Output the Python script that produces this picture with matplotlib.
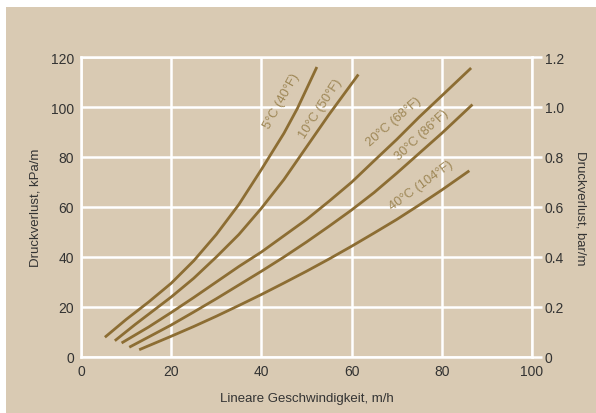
import matplotlib
matplotlib.use("Agg")
import matplotlib.pyplot as plt
from matplotlib.patches import Rectangle

plt.rcParams["font.family"] = ["Liberation Sans", "DejaVu Sans"]

# values
x_5 = [5.3, 10, 15, 20, 25, 30, 35, 40, 45, 48, 52.3]
y_5 = [7.9, 15, 22, 29.5, 38.5, 49, 61, 75, 89.5, 99.5, 116]

x_10 = [7.5, 12, 16, 20, 25, 30, 35, 40, 45, 50, 55, 61.5]
y_10 = [6.5, 13, 18.5, 24, 31.5, 40, 49, 59.5, 71, 84, 97, 113]

x_20 = [9, 15, 20, 25, 30, 35, 40, 45, 50, 55, 60, 65, 70, 75, 80, 86.5]
y_20 = [5.6, 12, 17.8, 23.8, 30, 36.2, 42, 48.5, 55, 62.3, 69.9, 78.5, 87, 96, 104.5, 115.6]

x_30 = [10.7, 15, 20, 25, 30, 35, 40, 45, 50, 55, 60, 65, 70, 75, 80, 86.8]
y_30 = [3.9, 8, 12.8, 18, 23.3, 28.8, 34.3, 40, 46, 52.3, 58.8, 65.8, 73.5, 81.5, 89.5, 101]

x_40 = [12.9, 15, 20, 25, 30, 35, 40, 45, 50, 55, 60, 65, 70, 75, 80, 86.1]
y_40 = [2.9, 4.5, 8.3, 12.2, 16.3, 20.6, 25, 29.6, 34.3, 39.2, 44.3, 49.6, 55, 60.8, 66.8, 74.5]

series = [(x_5, y_5), (x_10, y_10), (x_20, y_20), (x_30, y_30), (x_40, y_40)]

labels = ["5°C (40°F)", "10°C (50°F)", "20°C (68°F)", "30°C (86°F)", "40°C (104°F)"]
label_xy = [(44.4, 102.6), (53.2, 99.5), (69.4, 94.3), (75.5, 88.9), (75.4, 68.9)]
label_rot = [61, 57, 41, 43, 36]

x_ticks = [0, 20, 40, 60, 80, 100]
y_ticks = [0, 20, 40, 60, 80, 100, 120]
bar_ticks = [0, 0.2, 0.4, 0.6, 0.8, 1.0, 1.2]
bar_labels = ["0", "0.2", "0.4", "0.6", "0.8", "1.0", "1.2"]

tan = "#d9cab3"
line_color = "#8c6d33"
label_color = "#9e8756"
text_color = "#333333"

fig = plt.figure(figsize=(5.96, 4.14), dpi=100, facecolor=tan)
# thin white strips on the left and top edges
fig.patches.append(Rectangle((0, 0), 6 / 596, 1, transform=fig.transFigure,
                             facecolor="white", edgecolor="none", zorder=-10))
fig.patches.append(Rectangle((0, 406 / 414), 1, 8 / 414, transform=fig.transFigure,
                             facecolor="white", edgecolor="none", zorder=-10))

ax = fig.add_axes([81 / 596, 1 - 358 / 414, 451 / 596, 300 / 414])
ax.set_facecolor(tan)
ax.set_xlim(0, 100)
ax.set_ylim(0, 120)
ax.set_xticks(x_ticks)
ax.set_yticks(y_ticks)
ax.grid(True, color="white", linewidth=1.8)
ax.set_axisbelow(True)
for s in ax.spines.values():
    s.set_color("white")
    s.set_linewidth(1.8)
ax.tick_params(length=0, labelsize=10, colors=text_color, pad=5)

for (xs, ys) in series:
    ax.plot(xs, ys, color=line_color, linewidth=2.0, solid_capstyle="butt")

for txt, (lx, ly), rot in zip(labels, label_xy, label_rot):
    ax.text(lx, ly, txt, rotation=rot, rotation_mode="anchor", ha="center", va="center",
            fontsize=9.3, color=label_color)

ax.set_xlabel("Lineare Geschwindigkeit, m/h", fontsize=9.5, color=text_color, labelpad=10)
ax.set_ylabel("Druckverlust, kPa/m", fontsize=9.5, color=text_color, labelpad=7)

ax2 = ax.twinx()
ax2.set_ylim(0, 1.2)
ax2.set_yticks(bar_ticks)
ax2.set_yticklabels(bar_labels)
for s in ax2.spines.values():
    s.set_visible(False)
ax2.tick_params(axis="y", length=7, width=1.8, color="white", labelsize=10,
                labelcolor=text_color, pad=2)
ax2.set_ylabel("Druckverlust, bar/m", fontsize=9.5, color=text_color, rotation=270, labelpad=16)

fig.savefig("out.png", dpi=100, facecolor=tan)
